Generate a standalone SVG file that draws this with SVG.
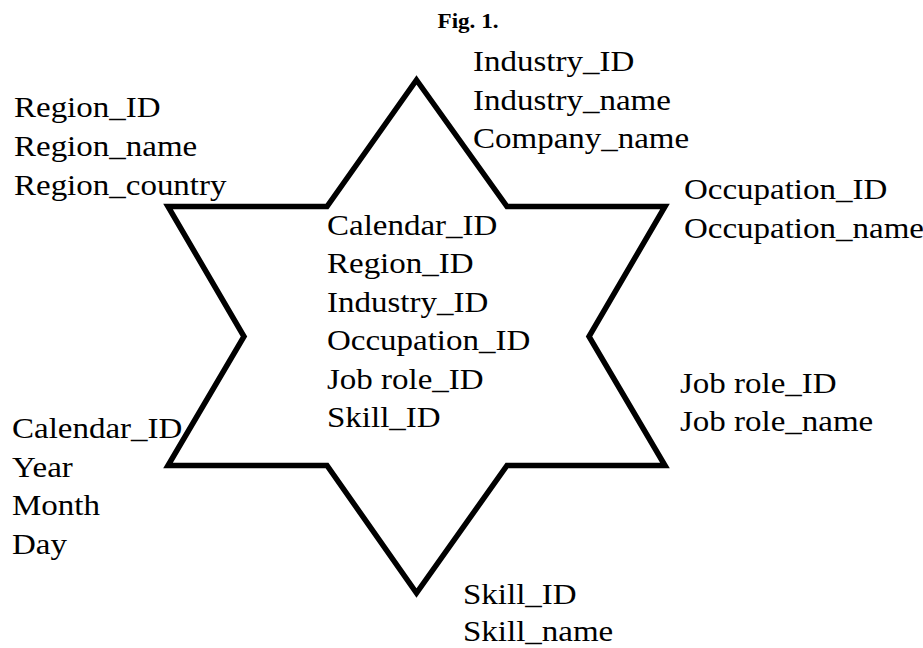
<svg xmlns="http://www.w3.org/2000/svg" width="923" height="648" viewBox="0 0 923 648">
<style>
.t{font-family:"Liberation Serif","Times New Roman",serif;font-size:30px;fill:#000}
.fig{font-family:"Liberation Serif","Times New Roman",serif;font-size:21px;font-weight:bold;fill:#000}
.star{fill:none;stroke:#000;stroke-width:5.5;stroke-linejoin:miter;stroke-miterlimit:10}
</style>
<rect width="923" height="648" fill="#fff"/>
<g id="title" transform="translate(468,28)"><text class="fig" text-anchor="middle" transform="scale(1.1,1)">Fig. 1.</text></g>
<g id="connectors">
<polygon class="star" points="416.5,80 507,206.5 665,206.5 589,336.5 665,465.5 507,465.5 416.5,593 327,465.5 168,465.5 244,336.5 168,206.5 327,206.5"/>
</g>
<g id="fact" transform="translate(327,235)"><text class="t" transform="scale(1.1,1)"><tspan x="0" y="0">Calendar_ID</tspan><tspan x="0" y="38.5">Region_ID</tspan><tspan x="0" y="77">Industry_ID</tspan><tspan x="0" y="115.5">Occupation_ID</tspan><tspan x="0" y="154">Job role_ID</tspan><tspan x="0" y="192.5">Skill_ID</tspan></text></g>
<g id="industry" transform="translate(473,71)"><text class="t" transform="scale(1.1,1)"><tspan x="0" y="0">Industry_ID</tspan><tspan x="0" y="38.7">Industry_name</tspan><tspan x="0" y="77.4">Company_name</tspan></text></g>
<g id="region" transform="translate(14,117)"><text class="t" transform="scale(1.1,1)"><tspan x="0" y="0">Region_ID</tspan><tspan x="0" y="39">Region_name</tspan><tspan x="0" y="78">Region_country</tspan></text></g>
<g id="occupation" transform="translate(684,199)"><text class="t" transform="scale(1.1,1)"><tspan x="0" y="0">Occupation_ID</tspan><tspan x="0" y="39">Occupation_name</tspan></text></g>
<g id="jobrole" transform="translate(680,393)"><text class="t" transform="scale(1.1,1)"><tspan x="0" y="0">Job role_ID</tspan><tspan x="0" y="38.5">Job role_name</tspan></text></g>
<g id="calendar" transform="translate(12,438)"><text class="t" transform="scale(1.1,1)"><tspan x="0" y="0">Calendar_ID</tspan><tspan x="0" y="38.7">Year</tspan><tspan x="0" y="77.4">Month</tspan><tspan x="0" y="116.1">Day</tspan></text></g>
<g id="skill" transform="translate(463,604)"><text class="t" transform="scale(1.1,1)"><tspan x="0" y="0">Skill_ID</tspan><tspan x="0" y="37">Skill_name</tspan></text></g>
</svg>
